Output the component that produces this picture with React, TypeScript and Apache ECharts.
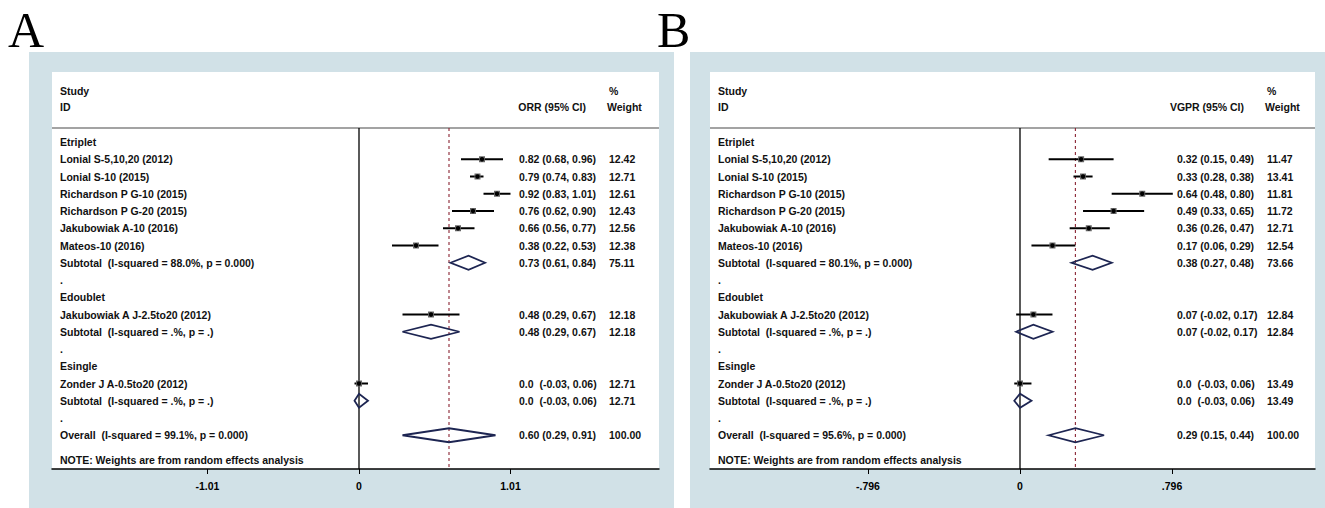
import React, { useEffect, useRef } from "react";
import * as echarts from "echarts";

// ---------- data ----------
const ROW_KIND = [
  "head", "study", "study", "study", "study", "study", "study", "sub", "dot",
  "head", "study", "sub", "dot",
  "head", "study", "sub", "dot",
  "sub",
];

const LABELS_A = [
  "Etriplet",
  "Lonial S-5,10,20 (2012)",
  "Lonial S-10 (2015)",
  "Richardson P G-10 (2015)",
  "Richardson P G-20 (2015)",
  "Jakubowiak A-10 (2016)",
  "Mateos-10 (2016)",
  "Subtotal  (I-squared = 88.0%, p = 0.000)",
  ".",
  "Edoublet",
  "Jakubowiak A J-2.5to20 (2012)",
  "Subtotal  (I-squared = .%, p = .)",
  ".",
  "Esingle",
  "Zonder J A-0.5to20 (2012)",
  "Subtotal  (I-squared = .%, p = .)",
  ".",
  "Overall  (I-squared = 99.1%, p = 0.000)",
];

const LABELS_B = [
  "Etriplet",
  "Lonial S-5,10,20 (2012)",
  "Lonial S-10 (2015)",
  "Richardson P G-10 (2015)",
  "Richardson P G-20 (2015)",
  "Jakubowiak A-10 (2016)",
  "Mateos-10 (2016)",
  "Subtotal  (I-squared = 80.1%, p = 0.000)",
  ".",
  "Edoublet",
  "Jakubowiak A J-2.5to20 (2012)",
  "Subtotal  (I-squared = .%, p = .)",
  ".",
  "Esingle",
  "Zonder J A-0.5to20 (2012)",
  "Subtotal  (I-squared = .%, p = .)",
  ".",
  "Overall  (I-squared = 95.6%, p = 0.000)",
];

const ORR_EST = [null, 0.82, 0.79, 0.92, 0.76, 0.66, 0.38, 0.73, null, null, 0.48, 0.48, null, null, 0.0, 0.0, null, 0.60];
const ORR_LO = [null, 0.68, 0.74, 0.83, 0.62, 0.56, 0.22, 0.61, null, null, 0.29, 0.29, null, null, -0.03, -0.03, null, 0.29];
const ORR_HI = [null, 0.96, 0.83, 1.01, 0.90, 0.77, 0.53, 0.84, null, null, 0.67, 0.67, null, null, 0.06, 0.06, null, 0.91];
const ORR_W = [null, 12.42, 12.71, 12.61, 12.43, 12.56, 12.38, 75.11, null, null, 12.18, 12.18, null, null, 12.71, 12.71, null, 100.0];

const VGPR_EST = [null, 0.32, 0.33, 0.64, 0.49, 0.36, 0.17, 0.38, null, null, 0.07, 0.07, null, null, 0.0, 0.0, null, 0.29];
const VGPR_LO = [null, 0.15, 0.28, 0.48, 0.33, 0.26, 0.06, 0.27, null, null, -0.02, -0.02, null, null, -0.03, -0.03, null, 0.15];
const VGPR_HI = [null, 0.49, 0.38, 0.80, 0.65, 0.47, 0.29, 0.48, null, null, 0.17, 0.17, null, null, 0.06, 0.06, null, 0.44];
const VGPR_W = [null, 11.47, 13.41, 11.81, 11.72, 12.71, 12.54, 73.66, null, null, 12.84, 12.84, null, null, 13.49, 13.49, null, 100.0];

const TICKS_A = [-1.01, 0, 1.01];
const TICK_LABELS_A = ["-1.01", "0", "1.01"];
const TICKS_B = [-0.796, 0, 0.796];
const TICK_LABELS_B = ["-.796", "0", ".796"];

const PANEL_LETTERS = ["A", "B"];
const EFFECT_HEADERS = ["ORR (95% CI)", "VGPR (95% CI)"];
const NOTE_TEXT = "NOTE: Weights are from random effects analysis";

// ---------- layout ----------
const ROW0_Y = 142;
const ROW_H = 17.25;
const GRID_TOP = 72;
const GRID_BOTTOM = 469;
const Y_MIN = (GRID_TOP - ROW0_Y) / ROW_H;
const Y_MAX = (GRID_BOTTOM - ROW0_Y) / ROW_H;
const SEP_ROW = (128 - ROW0_Y) / ROW_H;
const STUDY_ROW = (91 - ROW0_Y) / ROW_H;
const ID_ROW = (107 - ROW0_Y) / ROW_H;
const NOTE_ROW = (460 - ROW0_Y) / ROW_H;

const LABEL_DX = 8;
const CI_DX = 467;
const CI_HEAD_DX = 534;
const W_DX = 557;

const BLUE = "#d1e1e7";
const TXT = "#111";
const FONT = "'Liberation Sans', Arial, sans-serif";

const PANELS = [
  {
    blue: { x: 29, y: 52, w: 645, h: 456 },
    letterX: 8,
    gridLeft: 52,
    gridWidth: 607,
    zeroX: 359,
    pxPerUnit: 150,
    est: ORR_EST, lo: ORR_LO, hi: ORR_HI, w: ORR_W,
    labels: LABELS_A, ticks: TICKS_A, tickLabels: TICK_LABELS_A,
  },
  {
    blue: { x: 690, y: 52, w: 635, h: 456 },
    letterX: 657,
    gridLeft: 710,
    gridWidth: 605,
    zeroX: 1020,
    pxPerUnit: 191,
    est: VGPR_EST, lo: VGPR_LO, hi: VGPR_HI, w: VGPR_W,
    labels: LABELS_B, ticks: TICKS_B, tickLabels: TICK_LABELS_B,
  },
];

function fmt(v: number) {
  return v === 0 ? "0.0 " : v.toFixed(2);
}

function txt(x: number, y: number, text: string, align: string, size = 10.5) {
  return {
    type: "text",
    x,
    y,
    style: {
      text,
      fill: TXT,
      fontSize: size,
      fontWeight: "bold",
      fontFamily: FONT,
      align,
      verticalAlign: "middle",
    },
  };
}

function buildOption() {
  const grid: any[] = [];
  const xAxis: any[] = [];
  const yAxis: any[] = [];
  const series: any[] = [];
  const graphic: any[] = [];

  PANELS.forEach((p, pi) => {
    graphic.push({
      type: "rect",
      z: -10,
      shape: { x: p.blue.x, y: p.blue.y, width: p.blue.w, height: p.blue.h },
      style: { fill: BLUE },
    });
    graphic.push({
      type: "text",
      x: p.letterX,
      y: 30,
      style: {
        text: PANEL_LETTERS[pi],
        fill: "#000",
        fontSize: 50,
        fontFamily: "'Liberation Serif', 'Times New Roman', serif",
        verticalAlign: "middle",
      },
    });

    grid.push({
      left: p.gridLeft,
      top: GRID_TOP,
      width: p.gridWidth,
      height: GRID_BOTTOM - GRID_TOP,
      show: true,
      backgroundColor: "#ffffff",
      borderWidth: 0,
    });

    const xMin = (p.gridLeft - p.zeroX) / p.pxPerUnit;
    const xMax = (p.gridLeft + p.gridWidth - p.zeroX) / p.pxPerUnit;

    xAxis.push({
      type: "value",
      gridIndex: pi,
      min: xMin,
      max: xMax,
      position: "bottom",
      axisLine: { show: true, onZero: false, lineStyle: { color: "#000", width: 1.5 } },
      axisTick: { show: true, customValues: p.ticks, length: 5, lineStyle: { color: "#000", width: 1 } },
      axisLabel: {
        customValues: p.ticks,
        margin: 11,
        color: "#000",
        fontSize: 10.5,
        fontWeight: "bold",
        fontFamily: FONT,
        formatter: (v: number) => {
          let best = 0;
          p.ticks.forEach((t, ti) => {
            if (Math.abs(t - v) < Math.abs(p.ticks[best] - v)) best = ti;
          });
          return p.tickLabels[best];
        },
      },
      splitLine: { show: false },
    });

    yAxis.push({
      type: "value",
      gridIndex: pi,
      inverse: true,
      min: Y_MIN,
      max: Y_MAX,
      show: false,
      splitLine: { show: false },
    });

    const overall = p.est[p.est.length - 1] as number;

    // header separator + reference lines
    series.push({
      type: "custom",
      xAxisIndex: pi,
      yAxisIndex: pi,
      clip: false,
      z: 2,
      data: [[0, SEP_ROW], [overall, SEP_ROW]],
      encode: { x: 0, y: 1 },
      renderItem: (params: any, api: any) => {
        const cs = params.coordSys;
        const pt = api.coord([api.value(0), api.value(1)]);
        const bottom = cs.y + cs.height;
        if (params.dataIndex === 0) {
          return {
            type: "group",
            children: [
              { type: "line", shape: { x1: cs.x, y1: pt[1], x2: cs.x + cs.width, y2: pt[1] }, style: { stroke: "#a3a3a3", lineWidth: 2 } },
              { type: "line", shape: { x1: pt[0], y1: pt[1], x2: pt[0], y2: bottom }, style: { stroke: "#000", lineWidth: 1.3 } },
            ],
          };
        }
        return {
          type: "line",
          shape: { x1: pt[0], y1: pt[1], x2: pt[0], y2: bottom },
          style: { stroke: "#8a2432", lineWidth: 1.1, lineDash: [3, 3] },
        };
      },
    });

    // studies
    const studyData: number[][] = [];
    const diaData: number[][] = [];
    ROW_KIND.forEach((k, r) => {
      if (k === "study") studyData.push([p.est[r] as number, r, p.lo[r] as number, p.hi[r] as number]);
      if (k === "sub") diaData.push([p.est[r] as number, r, p.lo[r] as number, p.hi[r] as number]);
    });

    series.push({
      type: "custom",
      xAxisIndex: pi,
      yAxisIndex: pi,
      clip: false,
      z: 3,
      data: studyData,
      encode: { x: [0, 2, 3], y: 1 },
      renderItem: (params: any, api: any) => {
        const c = api.coord([api.value(0), api.value(1)]);
        const l = api.coord([api.value(2), api.value(1)]);
        const h = api.coord([api.value(3), api.value(1)]);
        return {
          type: "group",
          children: [
            { type: "line", shape: { x1: l[0], y1: c[1], x2: h[0], y2: c[1] }, style: { stroke: "#000", lineWidth: 2 } },
            { type: "rect", shape: { x: c[0] - 3, y: c[1] - 3, width: 6, height: 6 }, style: { fill: "#666" } },
            { type: "circle", shape: { cx: c[0], cy: c[1], r: 2.2 }, style: { fill: "#000" } },
          ],
        };
      },
    });

    series.push({
      type: "custom",
      xAxisIndex: pi,
      yAxisIndex: pi,
      clip: false,
      z: 3,
      data: diaData,
      encode: { x: [0, 2, 3], y: 1 },
      renderItem: (params: any, api: any) => {
        const c = api.coord([api.value(0), api.value(1)]);
        const l = api.coord([api.value(2), api.value(1)]);
        const h = api.coord([api.value(3), api.value(1)]);
        const hh = 7;
        return {
          type: "polygon",
          shape: { points: [[l[0], c[1]], [c[0], c[1] - hh], [h[0], c[1]], [c[0], c[1] + hh]] },
          style: { fill: "none", stroke: "#1d2552", lineWidth: 1.8 },
        };
      },
    });

    // row texts
    const textData = ROW_KIND.map((_, r) => [0, r]);
    series.push({
      type: "custom",
      xAxisIndex: pi,
      yAxisIndex: pi,
      clip: false,
      z: 4,
      data: textData,
      encode: { x: 0, y: 1 },
      renderItem: (params: any, api: any) => {
        const cs = params.coordSys;
        const r = params.dataIndex;
        const y = api.coord([0, api.value(1)])[1];
        const children: any[] = [txt(cs.x + LABEL_DX, y, p.labels[r], "left")];
        const e = p.est[r];
        if (e !== null) {
          const ci = `${fmt(e as number)} (${(p.lo[r] as number).toFixed(2)}, ${(p.hi[r] as number).toFixed(2)})`;
          children.push(txt(cs.x + CI_DX, y, ci, "left"));
          children.push(txt(cs.x + W_DX, y, (p.w[r] as number).toFixed(2), "left"));
        }
        return { type: "group", children };
      },
    });

    // headers + note
    series.push({
      type: "custom",
      xAxisIndex: pi,
      yAxisIndex: pi,
      clip: false,
      z: 4,
      data: [[0, STUDY_ROW, ID_ROW, NOTE_ROW]],
      encode: { x: 0, y: [1, 2, 3] },
      renderItem: (params: any, api: any) => {
        const cs = params.coordSys;
        const y1 = api.coord([0, api.value(1)])[1];
        const y2 = api.coord([0, api.value(2)])[1];
        const y3 = api.coord([0, api.value(3)])[1];
        return {
          type: "group",
          children: [
            txt(cs.x + LABEL_DX, y1, "Study", "left"),
            txt(cs.x + LABEL_DX, y2, "ID", "left"),
            txt(cs.x + W_DX, y1, "%", "left"),
            txt(cs.x + W_DX - 2, y2, "Weight", "left"),
            txt(cs.x + CI_HEAD_DX, y2, EFFECT_HEADERS[pi], "right"),
            txt(cs.x + LABEL_DX, y3, NOTE_TEXT, "left"),
          ],
        };
      },
    });
  });

  return {
    animation: false,
    backgroundColor: "#ffffff",
    grid,
    xAxis,
    yAxis,
    series,
    graphic,
  };
}

export default function App() {
  const ref = useRef<HTMLDivElement>(null);
  useEffect(() => {
    if (!ref.current) return;
    const chart = echarts.init(ref.current, undefined, { renderer: "svg" });
    chart.setOption(buildOption() as any);
    return () => chart.dispose();
  }, []);
  return (
    <div
      ref={ref}
      style={{ position: "fixed", left: 0, top: 0, width: 1325, height: 508 }}
    />
  );
}
